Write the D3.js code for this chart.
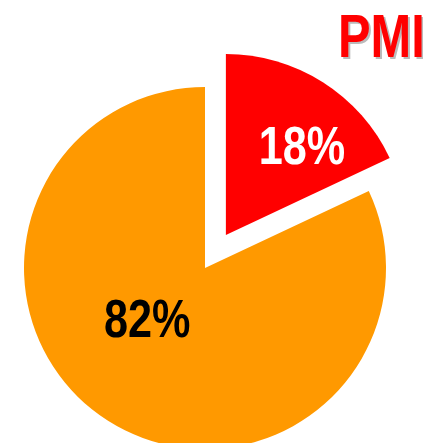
<!DOCTYPE html>
<html lang="en">
<head>
<meta charset="UTF-8">
<title>Pie</title>
<script src="https://cdn.jsdelivr.net/npm/d3@7"></script>
<style>
    html, body { margin: 0; padding: 0; background: #fff; }
    svg { display: block; }
</style>
</head>
<body>
<script>
// data
const labels = ['18%', '82%']
const values = [18, 82]
const colors = ['#FF0000', '#FF9900']
const textColors = ['#FFFFFF', '#000000']
const explode = [39, 0]
const title = 'PMI'

const W = 423, H = 443
const cx = 205, cy = 268, R = 181
// no narrow font installed, so squeeze a bold sans horizontally
const font = '"Liberation Sans", Arial, sans-serif'
const squeeze = 0.8

const svg = d3.select('body').append('svg')
    .attr('width', W)
    .attr('height', H)

const pie = d3.pie().sort(null).startAngle(0).endAngle(2 * Math.PI)
const arcs = pie(values)
const arc = d3.arc().innerRadius(0).outerRadius(R)

// offset of an exploded slice along its mid angle
function shift(d, i) {
    const a = (d.startAngle + d.endAngle) / 2
    return [explode[i] * Math.sin(a), -explode[i] * Math.cos(a)]
}

const g = svg.append('g').attr('transform', `translate(${cx},${cy})`)

g.selectAll('path')
    .data(arcs)
    .join('path')
    .attr('d', arc)
    .attr('fill', (d, i) => colors[i])
    .attr('transform', (d, i) => `translate(${shift(d, i)})`)

// label placement: fraction of radius and angle tweak (deg)
const labelR = [0.655, 0.42]
const labelTurn = [7.5, 17]

g.selectAll('text.lbl')
    .data(arcs)
    .join('text')
    .attr('class', 'lbl')
    .attr('transform', (d, i) => {
        const a = (d.startAngle + d.endAngle) / 2 + labelTurn[i] * Math.PI / 180
        const s = shift(d, i)
        return `translate(${s[0] + R * labelR[i] * Math.sin(a)},${s[1] - R * labelR[i] * Math.cos(a)}) scale(${squeeze},1)`
    })
    .attr('text-anchor', 'middle')
    .attr('dy', '0.36em')
    .attr('font-family', font)
    .attr('font-weight', 'bold')
    .attr('font-size', 54)
    .attr('fill', (d, i) => textColors[i])
    .text((d, i) => labels[i])

// title with grey drop shadow, clipped by the right edge
function titleText(dx, dy, fill) {
    svg.append('text')
        .attr('transform', `translate(${338 + dx},${57 + dy}) scale(${squeeze},1)`)
        .attr('font-family', font).attr('font-weight', 'bold').attr('font-size', 61)
        .attr('fill', fill)
        .text(title)
}
titleText(2, 2, '#bbbbbb')
titleText(0, 0, '#FF0000')
</script>
</body>
</html>
